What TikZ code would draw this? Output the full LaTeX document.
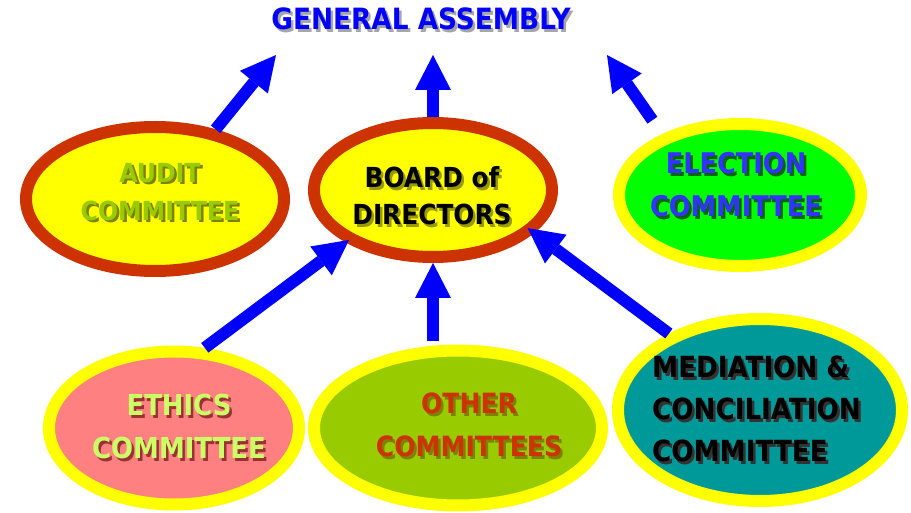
\documentclass[tikz,border=0pt]{standalone}
\usepackage{fontspec}
\usetikzlibrary{shapes.geometric,arrows.meta}
\newfontfamily\lblfont{DejaVu Sans Condensed}

\definecolor{brick}{HTML}{CC3300}
\definecolor{lemon}{HTML}{FFFF00}
\definecolor{lime}{HTML}{00FF00}
\definecolor{salmon}{HTML}{FF8080}
\definecolor{leaf}{HTML}{99CC00}
\definecolor{teal}{HTML}{009999}
\definecolor{arrowblue}{HTML}{0000FF}
\definecolor{olive}{HTML}{808000}
\definecolor{darkolive}{HTML}{999900}
\definecolor{pale}{HTML}{CCFF66}
\definecolor{rust}{HTML}{993333}
\definecolor{soft}{HTML}{3333FF}
\definecolor{forest}{HTML}{006600}

\tikzset{
  oval/.style={ellipse, line width=12pt, inner sep=0pt},
  lbl/.style={inner sep=0pt, align=center},
  sz/.style 2 args={font=\lblfont\bfseries\fontsize{#1}{#2}\selectfont},
  bluearrow/.style={draw=arrowblue, line width=12pt,
    -{Triangle[width=36pt,length=35pt,line width=0pt]}},
}

% name, position, shadow colour, text colour, text
\newcommand{\shadowtext}[6][]{%
  \node[lbl,#1,text=#4] (#2s) at ([shift={(2.5,2.5)}]#3) {#6};
  \node[lbl,#1,text=#5] (#2) at (#3) {#6};}

\begin{document}
\begin{tikzpicture}[x=1pt,y=-1pt]
  \useasboundingbox (0,0) rectangle (911,513);

  % ovals
  \node[oval, draw=brick, fill=lemon, minimum width=258pt, minimum height=144pt] (audit) at (155,199) {};
  \node[oval, draw=brick, fill=lemon, minimum width=238pt, minimum height=134pt] (board) at (433,190) {};
  \node[oval, draw=lemon, fill=lime, minimum width=242pt, minimum height=142pt] (election) at (740,195) {};
  \node[oval, draw=lemon, fill=salmon, minimum width=250pt, minimum height=153pt] (ethics) at (174,428) {};
  \node[oval, draw=lemon, fill=leaf, minimum width=288pt, minimum height=155pt] (other) at (458,428) {};
  \node[oval, draw=lemon, fill=teal, minimum width=284pt, minimum height=182pt] (mediation) at (760,410) {};

  % texts
  \shadowtext[sz={29.3}{38}]{ga}{421,19}{gray!70}{arrowblue}{GENERAL ASSEMBLY}
  \shadowtext[sz={26.3}{38}]{audittxt}{160,192}{olive}{leaf}{AUDIT\\COMMITTEE}
  \shadowtext[sz={27.6}{37}]{boardtxt}{432,196}{darkolive}{black}{BOARD of\\DIRECTORS}
  \shadowtext[sz={28.5}{43}]{electiontxt}{736,185}{forest}{soft}{ELECTION\\COMMITTEE}
  \shadowtext[sz={28.8}{43}]{ethicstxt}{179,427}{rust}{pale}{ETHICS\\COMMITTEE}
  \shadowtext[sz={27.9}{43}]{othertxt}{469,425}{olive}{brick}{OTHER\\COMMITTEES}
  \shadowtext[sz={29.1}{42}, align=left, anchor=west]{mediationtxt}{652,409}{black!80}{black}{MEDIATION \&\\CONCILIATION\\COMMITTEE}

  % arrow ends under the title
  \coordinate (gaW) at (276,55);
  \coordinate (gaC) at (433,55);
  \coordinate (gaE) at (607,55);

  % arrows
  \draw[bluearrow] (audit.49) -- (gaW);
  \draw[bluearrow] (board.north) -- (gaC);
  \draw[bluearrow, shorten <=17pt] (election.142) -- (gaE);
  \draw[bluearrow, shorten >=-4pt] (ethics.69) -- (board.211);
  \draw[bluearrow, shorten <=4pt] (board.south |- other.north) -- (board.south);
  \draw[bluearrow, shorten >=-8pt] (mediation.140) -- (board.-23);
\end{tikzpicture}
\end{document}
